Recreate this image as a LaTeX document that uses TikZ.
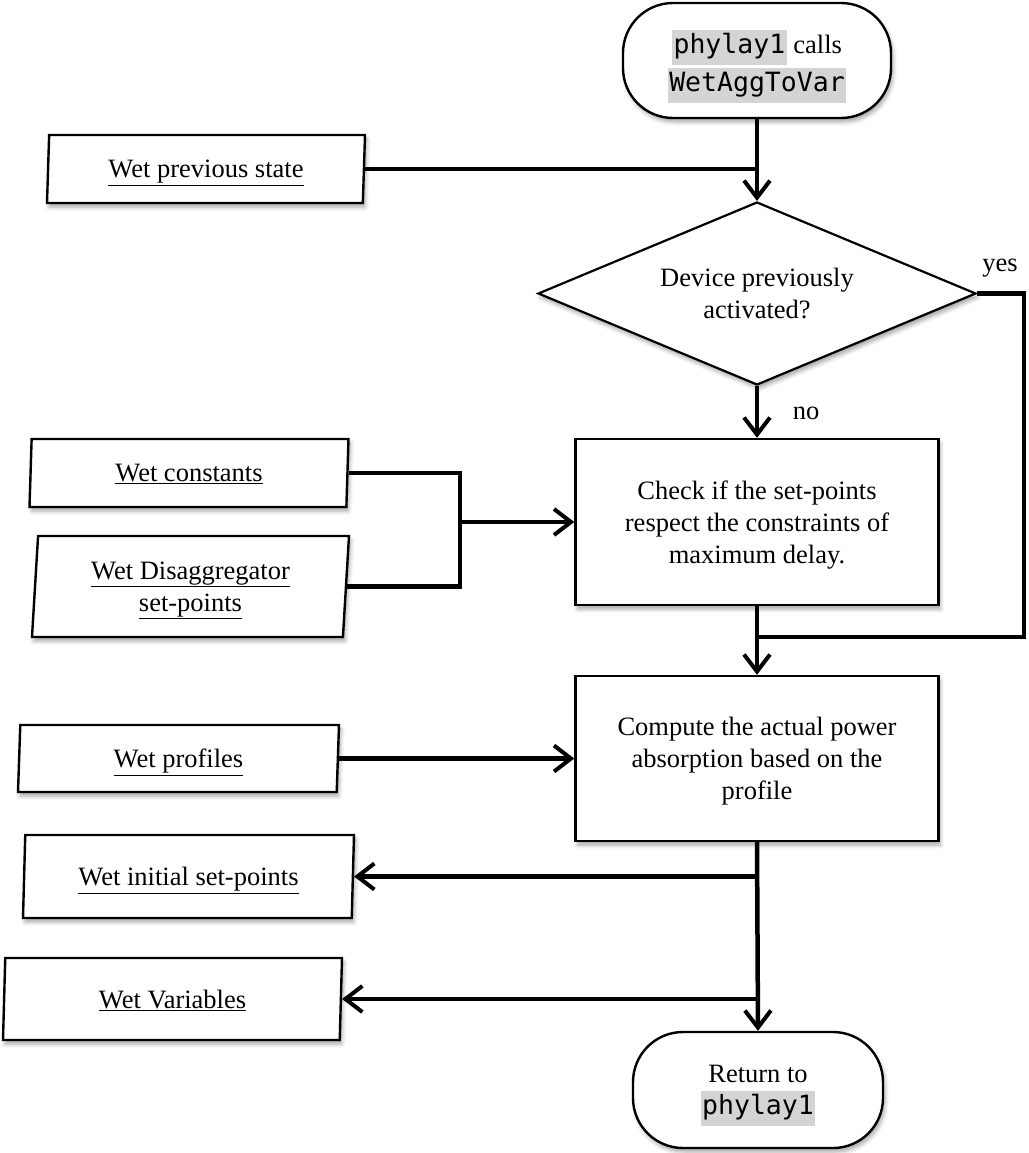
\documentclass[tikz,border=0pt]{standalone}
\usepackage{fontspec}
\setmainfont{Liberation Serif}
\setmonofont{DejaVu Sans Mono}
\usetikzlibrary{shapes.geometric,arrows.meta,shadows.blur,calc}
\definecolor{codegray}{RGB}{212,212,212}
\newcommand{\codebox}[1]{{\setlength{\fboxsep}{1.5pt}\colorbox{codegray}{\strut\texttt{#1}}}}
\begin{document}
\begin{tikzpicture}[x=1pt,y=-1pt,
  font=\fontsize{26.5}{32}\selectfont,
  shad/.style={blur shadow={shadow xshift=2pt,shadow yshift=-4pt,shadow blur radius=4pt,shadow opacity=35}},
  term/.style={draw,line width=2.4pt,fill=white,rounded corners=50pt,align=center,inner sep=0pt,text depth=0pt,shad},
  procbox/.style={draw,line width=2.4pt,fill=white,rectangle,align=center,inner sep=0pt,text depth=0pt,shad},
  decbox/.style={draw,line width=2.2pt,fill=white,diamond,aspect=2.393,align=center,inner sep=0pt,text depth=0pt,shad},
  iobox/.style={draw,line width=2.4pt,fill=white,trapezium,trapezium left angle=83,trapezium right angle=97,
     trapezium stretches body,align=center,inner sep=0pt,text depth=0pt,shad},
  conn/.style={line width=4.5pt},
  arr/.style={conn,-{Straight Barb[length=17pt,width=26pt,line width=4pt]}},
  lbl/.style={inner sep=0pt}
]
\useasboundingbox (0,0) rectangle (1028,1153);

% nodes
\node[term,minimum width=268pt,minimum height=115pt] (start) at (757,60.5)
  {\codebox{phylay1} calls\\[2pt]\codebox{WetAggToVar}};
\node[iobox,minimum width=318pt,minimum height=68pt] (wps) at (206,169) {\underline{Wet previous state}};
\node[decbox,minimum width=438pt,minimum height=183pt] (dec) at (757,293.5) {Device previously\\activated?};
\node[procbox,minimum width=363pt,minimum height=166pt] (chk) at (757,522)
  {Check if the set-points\\respect the constraints of\\maximum delay.};
\node[iobox,minimum width=319pt,minimum height=68pt] (cst) at (189,473) {\underline{Wet constants}};
\node[iobox,minimum width=317pt,minimum height=101pt] (dis) at (190.5,586.5)
  {\underline{Wet Disaggregator}\\\underline{set-points}};
\node[procbox,minimum width=363pt,minimum height=165pt] (cmp) at (757,758.5)
  {Compute the actual power\\absorption based on the\\profile};
\node[iobox,minimum width=321pt,minimum height=67pt] (prof) at (178.5,758.5) {\underline{Wet profiles}};
\node[iobox,minimum width=331pt,minimum height=83pt] (ini) at (188.5,876.5) {\underline{Wet initial set-points}};
\node[iobox,minimum width=339pt,minimum height=82pt] (var) at (172.5,999) {\underline{Wet Variables}};
\node[term,minimum width=250pt,minimum height=116pt] (ret) at (758,1090)
  {Return to\\\codebox{phylay1}};

\node[lbl] (yes) at (1000,268) {yes};
\node[lbl] (no) at (806,413) {no};

\coordinate (jin) at (460,522);
\coordinate (loopc) at (1024,637);
\coordinate (j2) at (757,637);

% connectors
\draw[conn] (wps.east) -- (wps.east -| start.south);
\draw[arr] (start.south) -- (dec.north);
\draw[arr] (dec.south) -- (chk.north);
\draw[conn] (dec.east) -| (loopc) -- (j2);
\draw[conn] (cst.east) -| (jin);
\draw[conn] (dis.east) -| (jin);
\draw[arr] (jin) -- (chk.west);
\draw[arr] (chk.south) -- (cmp.north);
\draw[arr] (prof.east) -- (prof.east -| cmp.west);
\draw[arr] (cmp.south) -- (ret.north);
\draw[arr] (cmp.south |- ini.east) -- (ini.east);
\draw[arr] (cmp.south |- var.east) -- (var.east);
\end{tikzpicture}
\end{document}
